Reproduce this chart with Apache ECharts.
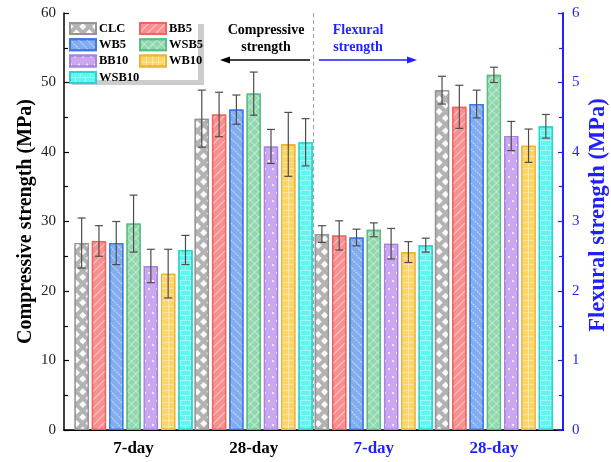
<!DOCTYPE html>
<html>
<head>
<meta charset="utf-8">
<script src="https://cdn.jsdelivr.net/npm/echarts@6/dist/echarts.min.js"></script>
<style>html,body{margin:0;padding:0;background:#fff;}#c{width:611px;height:462px;}</style>
</head>
<body>
<div id="c"></div>
<script>
// ---- data ----
const categories = ['7-day', '28-day', '7-day', '28-day'];
const categoryKeys = ['c7', 'c28', 'f7', 'f28'];
const seriesNames = ['CLC', 'BB5', 'WB5', 'WSB5', 'BB10', 'WB10', 'WSB10'];
const comp7 = [26.9, 27.2, 26.9, 29.7, 23.6, 22.5, 25.9];
const comp7Err = [3.6, 2.2, 3.1, 4.1, 2.4, 3.5, 2.1];
const comp28 = [44.8, 45.4, 46.1, 48.4, 40.8, 41.1, 41.4];
const comp28Err = [4.1, 3.2, 2.1, 3.1, 2.45, 4.6, 3.4];
const flex7 = [2.82, 2.80, 2.77, 2.88, 2.68, 2.56, 2.66];
const flex7Err = [0.12, 0.21, 0.12, 0.10, 0.22, 0.15, 0.10];
const flex28 = [4.89, 4.65, 4.69, 5.11, 4.23, 4.09, 4.37];
const flex28Err = [0.20, 0.31, 0.20, 0.11, 0.21, 0.24, 0.17];

// ---- styles ----
const FONT = '"Liberation Serif", "Times New Roman", serif';
const BLUE = '#1f1fff';
const fills = ['#b3b3b3', '#f98f8f', '#84adf0', '#92d8ae', '#caa8ef', '#fdd468', '#5ff6f0'];
const borders = ['#959595', '#f06464', '#3a7be6', '#5ebd86', '#a882e4', '#edb42f', '#28d4ce'];
const GRID_PATH = 'path://M0,0H10V1H1V10H0Z';
const BRICK_PATH = 'path://M0,0H18V1H0Z M0,1H1V9H0Z M0,9H18V10H0Z M9,10H10V18H9Z';
const decals = [
  {symbol: 'rect', symbolSize: 1, color: 'rgba(255,255,255,0.95)', dashArrayX: [4.3, 3.5], dashArrayY: [4.3, 3.5], rotation: Math.PI / 4},
  {symbol: 'rect', symbolSize: 1, color: 'rgba(255,255,255,0.55)', dashArrayX: [1, 0], dashArrayY: [1, 5], rotation: -Math.PI / 4},
  {symbol: 'rect', symbolSize: 1, color: 'rgba(255,255,255,0.55)', dashArrayX: [2, 1], dashArrayY: [1, 5], rotation: Math.PI / 4},
  {symbol: GRID_PATH, symbolSize: 1, symbolKeepAspect: false, color: 'rgba(255,255,255,0.7)', dashArrayX: [6, 0], dashArrayY: [6, 0], rotation: Math.PI / 4},
  {symbol: 'rect', symbolSize: 1, color: 'rgba(255,255,255,0.75)', dashArrayX: [[1.5, 5.5], [0, 3.5, 1.5, 2]], dashArrayY: [1.5, 6]},
  {symbol: GRID_PATH, symbolSize: 1, symbolKeepAspect: false, color: 'rgba(255,255,255,0.8)', dashArrayX: [6, 0], dashArrayY: [6, 0]},
  {symbol: BRICK_PATH, symbolSize: 1, symbolKeepAspect: false, color: 'rgba(255,255,255,0.8)', dashArrayX: [10, 0], dashArrayY: [10, 0]}
];
const BAR_W = 14.3, BAR_GAP = 0.21;
const PITCH = BAR_W * (1 + BAR_GAP);
const CAP = 4;

function itemStyle(i) {
  return {color: fills[i], borderColor: borders[i], borderWidth: 1.3, decal: decals[i]};
}

const series = [];
seriesNames.forEach((name, i) => {
  series.push({
    name, type: 'bar', xAxisIndex: 2, yAxisIndex: 2,
    barWidth: BAR_W, barGap: (BAR_GAP * 100) + '%',
    data: [comp7[i], comp28[i], '-', '-'],
    itemStyle: itemStyle(i), z: 2
  });
});
seriesNames.forEach((name, i) => {
  series.push({
    name, type: 'bar', xAxisIndex: 3, yAxisIndex: 3,
    barWidth: BAR_W, barGap: (BAR_GAP * 100) + '%',
    data: ['-', '-', flex7[i], flex28[i]],
    itemStyle: itemStyle(i), z: 2
  });
});

function errRender(params, api) {
  const cat = api.value(0), lo = api.value(1), hi = api.value(2), k = api.value(3);
  const b = api.coord([cat, lo]);
  const t = api.coord([cat, hi]);
  const x = b[0] + (k - 3) * PITCH;
  const st = {stroke: '#4d4d4d', lineWidth: 1.2};
  return {type: 'group', children: [
    {type: 'line', shape: {x1: x, y1: t[1], x2: x, y2: b[1]}, style: st},
    {type: 'line', shape: {x1: x - CAP, y1: t[1], x2: x + CAP, y2: t[1]}, style: st},
    {type: 'line', shape: {x1: x - CAP, y1: b[1], x2: x + CAP, y2: b[1]}, style: st}
  ]};
}
const compErr = [], flexErr = [];
seriesNames.forEach((n, k) => {
  compErr.push([0, comp7[k] - comp7Err[k], comp7[k] + comp7Err[k], k]);
  compErr.push([1, comp28[k] - comp28Err[k], comp28[k] + comp28Err[k], k]);
  flexErr.push([2, flex7[k] - flex7Err[k], flex7[k] + flex7Err[k], k]);
  flexErr.push([3, flex28[k] - flex28Err[k], flex28[k] + flex28Err[k], k]);
});
series.push({type: 'custom', xAxisIndex: 2, yAxisIndex: 2, renderItem: errRender, data: compErr, encode: {x: 0, y: [1, 2]}, z: 10, silent: true});
series.push({type: 'custom', xAxisIndex: 3, yAxisIndex: 3, renderItem: errRender, data: flexErr, encode: {x: 0, y: [1, 2]}, z: 10, silent: true});

const legendCommon = {
  orient: 'vertical', top: 22, padding: 0, itemWidth: 26, itemHeight: 11, itemGap: 3.3,
  icon: 'rect',
  textStyle: {fontFamily: FONT, fontWeight: 'bold', fontSize: 12.5, color: '#000', lineHeight: 12, padding: [0, 0, 0, -2]},
  selectedMode: false
};

const option = {
  animation: false,
  backgroundColor: '#fff',
  grid: [
    {left: 64, right: 48, top: 13, bottom: 32},
    {left: 73.5, right: 57, top: 13, bottom: 32}
  ],
  legend: [
    Object.assign({left: 69, data: ['CLC', 'WB5', 'BB10', 'WSB10']}, legendCommon),
    Object.assign({left: 139, data: ['BB5', 'WSB5', 'WB10']}, legendCommon)
  ],
  xAxis: [
    {gridIndex: 0, type: 'category', data: ['a'], position: 'bottom',
      axisLine: {lineStyle: {color: '#000', width: 1.5}}, axisTick: {show: false}, axisLabel: {show: false}},
    {gridIndex: 0, type: 'category', data: ['a'], position: 'top',
      axisLine: {lineStyle: {color: '#000', width: 1.2}}, axisTick: {show: false}, axisLabel: {show: false}},
    {gridIndex: 1, type: 'category', data: categoryKeys, position: 'bottom',
      axisLine: {show: false}, axisTick: {show: false},
      axisLabel: {
        margin: 10,
        formatter: (v, i) => (i < 2 ? '{k|' : '{f|') + categories[i] + '}',
        rich: {
          k: {fontFamily: FONT, fontWeight: 'bold', fontSize: 17, color: '#000'},
          f: {fontFamily: FONT, fontWeight: 'bold', fontSize: 17, color: BLUE}
        }
      }},
    {gridIndex: 1, type: 'category', data: categoryKeys, show: false}
  ],
  yAxis: [
    {gridIndex: 0, type: 'value', position: 'left', min: 0, max: 60, interval: 10,
      name: 'Compressive strength (MPa)', nameLocation: 'middle', nameGap: 28, nameRotate: 90,
      nameMoveOverlap: false,
      nameTextStyle: {fontFamily: FONT, fontWeight: 'bold', fontSize: 20, color: '#000'},
      axisLine: {show: true, lineStyle: {color: '#000', width: 1.5}},
      axisTick: {show: true, inside: true, length: 5, lineStyle: {color: '#000', width: 1.2}},
      minorTick: {show: true, splitNumber: 2, length: 4, lineStyle: {color: '#000', width: 1.2}},
      axisLabel: {fontFamily: FONT, fontSize: 15, color: '#222', margin: 8},
      splitLine: {show: false}},
    {gridIndex: 0, type: 'value', position: 'right', min: 0, max: 6, interval: 1,
      axisLine: {show: true, lineStyle: {color: BLUE, width: 2}},
      axisTick: {show: true, inside: true, length: 5, lineStyle: {color: BLUE, width: 1.2}},
      minorTick: {show: true, splitNumber: 2, length: 4, lineStyle: {color: BLUE, width: 1.2}},
      axisLabel: {fontFamily: FONT, fontSize: 15, color: BLUE, margin: 9},
      splitLine: {show: false}},
    {gridIndex: 1, type: 'value', min: 0, max: 60, show: false},
    {gridIndex: 1, type: 'value', min: 0, max: 6, show: false, position: 'right'}
  ],
  graphic: [
    {type: 'rect', z: -1, shape: {x: 66, y: 19, width: 132, height: 61},
      style: {fill: '#fff', shadowColor: '#cccccc', shadowOffsetX: 6, shadowOffsetY: 5, shadowBlur: 0}},
    {type: 'line', z: 0, shape: {x1: 313.6, y1: 13, x2: 313.6, y2: 430},
      style: {stroke: '#9a9a9a', lineWidth: 1, lineDash: [4, 3]}},
    {type: 'text', x: 598, y: 215, rotation: Math.PI / 2,
      style: {text: 'Flexural strength (MPa)', fill: BLUE, font: 'bold 22.5px ' + FONT, textAlign: 'center', textVerticalAlign: 'middle'}},
    {type: 'text', x: 266, y: 30, style: {text: 'Compressive', fill: '#000', font: 'bold 14px ' + FONT, textAlign: 'center', textVerticalAlign: 'middle'}},
    {type: 'text', x: 266, y: 47, style: {text: 'strength', fill: '#000', font: 'bold 14px ' + FONT, textAlign: 'center', textVerticalAlign: 'middle'}},
    {type: 'text', x: 358, y: 30, style: {text: 'Flexural', fill: BLUE, font: 'bold 14px ' + FONT, textAlign: 'center', textVerticalAlign: 'middle'}},
    {type: 'text', x: 358, y: 47, style: {text: 'strength', fill: BLUE, font: 'bold 14px ' + FONT, textAlign: 'center', textVerticalAlign: 'middle'}},
    {type: 'line', shape: {x1: 310, y1: 60, x2: 226, y2: 60}, style: {stroke: '#000', lineWidth: 1.5}},
    {type: 'polygon', shape: {points: [[220, 60], [230, 56.5], [230, 63.5]]}, style: {fill: '#000'}},
    {type: 'line', shape: {x1: 319, y1: 60, x2: 410, y2: 60}, style: {stroke: BLUE, lineWidth: 1.5}},
    {type: 'polygon', shape: {points: [[417, 60], [407, 56.5], [407, 63.5]]}, style: {fill: BLUE}}
  ],
  series
};

const chart = echarts.init(document.getElementById('c'), null, {renderer: 'canvas'});
chart.setOption(option);
</script>
</body>
</html>
